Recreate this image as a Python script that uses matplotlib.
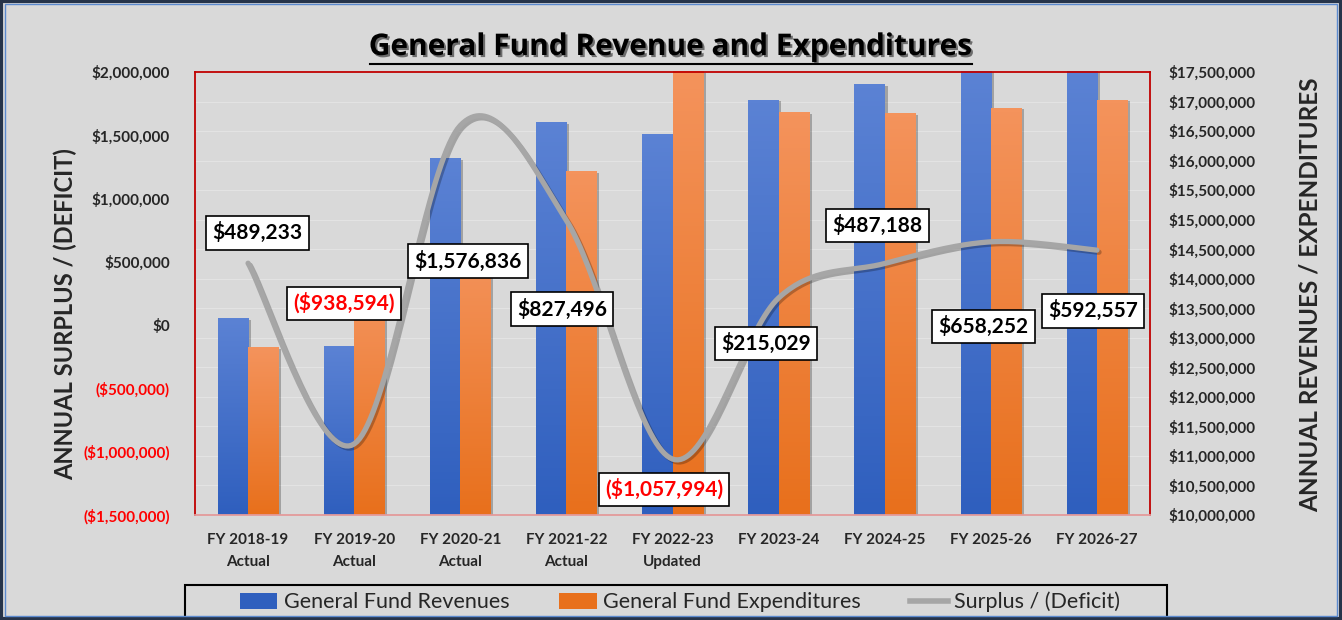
import numpy as np
import matplotlib
matplotlib.use("Agg")
from matplotlib import pyplot as plt
from matplotlib.patches import Rectangle, Patch
from matplotlib.lines import Line2D
import matplotlib.patheffects as pe
from matplotlib.ticker import FuncFormatter

plt.rcParams['font.family'] = ['Lato', 'DejaVu Sans']

# data
years = ["FY 2018-19\nActual", "FY 2019-20\nActual", "FY 2020-21\nActual",
         "FY 2021-22\nActual", "FY 2022-23\nUpdated", "FY 2023-24",
         "FY 2024-25", "FY 2025-26", "FY 2026-27"]
revenues = [13330000, 12860000, 16040000, 16650000, 16455000,
            17030000, 17290000, 17550000, 17620000]
expenditures = [12840000, 13800000, 14460000, 15820000, 17513000,
                16815000, 16800000, 16890000, 17030000]
surplus = [489233, -938594, 1576836, 827496, -1057994,
           215029, 487188, 658252, 592557]

# label offsets from each point (x in categories, y in dollars)
label_off = [(0.09, 240000), (-0.10, 1110000), (0.07, -1070000), (-0.04, -700000),
             (-0.08, -240000), (-0.12, -360000), (-0.07, 300000), (-0.07, -670000),
             (-0.04, -480000)]

bg = "#D9D9D9"
blue_top, blue_bot = "#5B82D4", "#2F5FBE"
orng_top, orng_bot = "#F4935C", "#E8701C"
YMIN, YMAX = 10000000, 17500000

fig = plt.figure(figsize=(13.42, 6.2), dpi=100)
fig.patch.set_facecolor(bg)

ax = fig.add_axes([195/1342, 105/620, 955/1342, 443/620])
ax.set_facecolor(bg)
ax2 = ax.twinx()

x = np.arange(len(years))
w = 0.285

bars1 = ax.bar(x - w/2, revenues, w, color=blue_bot, zorder=2)
bars2 = ax.bar(x + w/2, expenditures, w, color=orng_bot, zorder=2)


def grad(bars, c_top, c_bot):
    cmap = matplotlib.colors.LinearSegmentedColormap.from_list("g", [c_bot, c_top])
    g = np.linspace(0, 1, 100).reshape(-1, 1)
    for b in bars:
        b.set_path_effects([pe.SimplePatchShadow(offset=(2, -1), alpha=0.25, shadow_rgbFace="black"),
                            pe.Normal()])
        x0 = b.get_x()
        top = min(b.get_height(), YMAX)
        im = ax.imshow(g, cmap=cmap, origin="lower", aspect="auto",
                       extent=[x0, x0 + b.get_width(), YMIN, top], zorder=2.5)
        im.set_clip_path(b)


grad(bars1, blue_top, blue_bot)
grad(bars2, orng_top, orng_bot)
ax.set_xlim(-0.5, len(years) - 0.5)
ax.set_ylim(YMIN, YMAX)

# right axis (bars)
ax.yaxis.tick_right()
ax.set_yticks(np.arange(YMIN, YMAX + 1, 500000))
ax.yaxis.set_major_formatter(FuncFormatter(lambda v, p: "${:,.0f}".format(v)))
ax.tick_params(axis="y", length=0, pad=13, labelsize=11, labelcolor="#262626")
for t in ax.get_yticklabels():
    t.set_fontweight("bold")
ax.grid(axis="y", color="#E3E3E3", lw=0.8, zorder=0)
ax.set_axisbelow(True)
ax.set_xticks(x)
ax.set_xticklabels(years, fontsize=11, fontweight="bold", color="#262626", linespacing=1.7)
ax.tick_params(axis="x", length=0, pad=13)

for s in ["top", "left", "right"]:
    ax.spines[s].set_color("#C00000")
    ax.spines[s].set_linewidth(1.3)
ax.spines["bottom"].set_color("#E49A9A")
ax.spines["bottom"].set_linewidth(1.3)
for s in ax2.spines.values():
    s.set_visible(False)

# left axis (surplus line)
ax2.yaxis.tick_left()
ax2.set_ylim(-1500000, 2000000)
ax2.set_yticks(np.arange(-1500000, 2000001, 500000))


def money(v, p):
    if v < 0:
        return "(${:,.0f})".format(-v)
    return "${:,.0f}".format(v)


ax2.yaxis.set_major_formatter(FuncFormatter(money))
ax2.tick_params(axis="y", length=0, pad=18, labelsize=11)
for t, v in zip(ax2.get_yticklabels(), ax2.get_yticks()):
    t.set_fontweight("bold")
    t.set_color("#FF0000" if v < 0 else "#262626")

# smoothed line (bezier through points, like Excel smoothing)
P = np.column_stack([x, surplus]).astype(float)
Pe = np.vstack([P[0], P, P[-1]])
xs, ys = [], []
tt = np.linspace(0, 1, 40)
for i in range(len(P) - 1):
    p0, p3 = Pe[i + 1], Pe[i + 2]
    p1 = p0 + (Pe[i + 2] - Pe[i]) / 6
    p2 = p3 - (Pe[i + 3] - Pe[i + 1]) / 6
    c = ((1 - tt)**3)[:, None]*p0 + (3*(1 - tt)**2*tt)[:, None]*p1 + \
        (3*(1 - tt)*tt**2)[:, None]*p2 + (tt**3)[:, None]*p3
    xs.extend(c[:, 0]); ys.extend(c[:, 1])
ax2.plot(xs, ys, color="#A6A6A6", lw=3.8, solid_capstyle="round", zorder=3,
         path_effects=[pe.SimpleLineShadow(offset=(1.5, -1.5), alpha=0.25, shadow_color="black"),
                       pe.Normal()])

for i, v in enumerate(surplus):
    dx, dy = label_off[i]
    ax2.text(x[i] + dx, v + dy, money(v, None), ha="center", va="center",
             fontsize=15, fontweight="bold", color="#FF0000" if v < 0 else "black",
             bbox=dict(boxstyle="square,pad=0.3", fc="white", ec="black", lw=1.2), zorder=5)

# axis titles
fig.text(65/1342, 1 - 314/620, "ANNUAL SURPLUS / (DEFICIT)", rotation=90, ha="center",
         va="center", fontsize=17, fontweight="bold", color="#262626")
fig.text(1310/1342, 1 - 295/620, "ANNUAL REVENUES / EXPENDITURES", rotation=90, ha="center",
         va="center", fontsize=17.5, fontweight="bold", color="#262626")

# title
fig.text(671/1342, 1 - 47/620, "General Fund Revenue and Expenditures", ha="center", va="center",
         fontsize=21.5, fontweight="bold", color="black", family=["Open Sans", "DejaVu Sans"],
         path_effects=[pe.SimplePatchShadow(offset=(1.5, -1.5), alpha=0.5), pe.Normal()])
fig.add_artist(Line2D([370/1342, 972/1342], [1 - 64/620, 1 - 64/620], color="black", lw=1.5))

# legend
fig.add_artist(Rectangle((185/1342, -0.05), 982/1342, 0.05 + 35/620, transform=fig.transFigure,
                         fill=False, ec="black", lw=1.5))
handles = [Patch(facecolor=blue_bot, label="General Fund Revenues"),
           Patch(facecolor=orng_bot, label="General Fund Expenditures"),
           Line2D([], [], color="#A6A6A6", lw=4, label="Surplus / (Deficit)")]
leg = fig.legend(handles=handles, loc="center", ncol=3,
                 bbox_to_anchor=(680/1342, 1 - 602/620), fontsize=15.5,
                 frameon=False, handlelength=1.75, handleheight=0.75, handletextpad=0.3,
                 columnspacing=2.3, borderaxespad=0, borderpad=0)
for t in leg.get_texts():
    t.set_color("#262626")

# outer border
fig.add_artist(Rectangle((0.001, 0.002), 0.998, 0.996, transform=fig.transFigure,
                         fill=False, ec="#26344A", lw=3))
fig.add_artist(Rectangle((0.004, 0.006), 0.992, 0.988, transform=fig.transFigure,
                         fill=False, ec="#5B8ACF", lw=1))

fig.savefig("out.png", dpi=100, facecolor=bg)
